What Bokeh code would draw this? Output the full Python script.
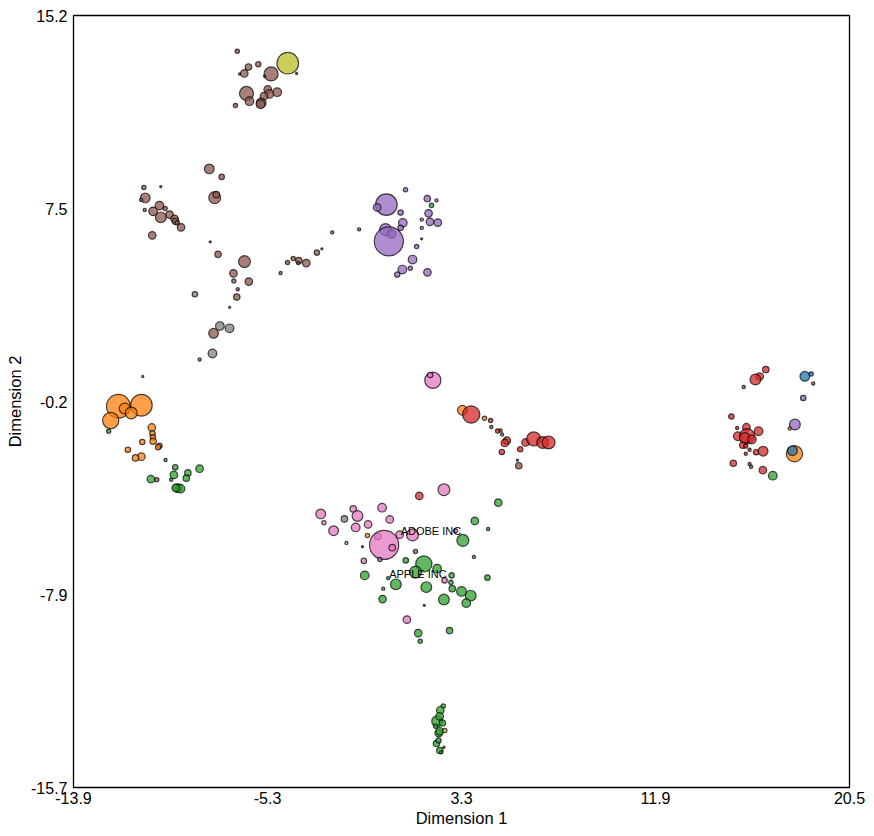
from bokeh.plotting import figure
from bokeh.models import ColumnDataSource, FixedTicker, Range1d
from bokeh.embed import file_html
from bokeh.resources import INLINE
from bokeh.core.properties import value

# group codes: 0 blue, 1 orange, 2 green, 3 red, 4 purple, 5 brown, 6 pink, 7 gray, 8 olive
x = [
    -6.64, -6.14, -5.71, -6.33, -6.54, -5.14, -5.43, -4.40, -4.01, -6.23, -6.10, -5.29, -5.22, -5.46, -4.87, -5.58, -5.61, -6.72,
    -7.88, -7.33, -10.78, -10.03, -10.72, -10.90, -7.64, -7.57, -10.74, -10.09, -10.37, -9.84, -10.03, -9.64, -9.42, -9.38, -9.30,
    -9.13, -10.41, -7.84, -2.43, -1.24, -7.49, -6.32, -3.11, -2.89, -4.41, -4.16, -3.91, -3.58, -3.94, -4.72, -6.81, -6.79, -6.13,
    -6.62, -6.66, -8.52, -6.98, -7.41, -6.98, -7.69, -7.74, -8.31, -10.83,
    0.82, 1.78, 2.19, 1.97, -0.03, -0.44, 0.60, 1.84, 1.54, 1.90, 2.25, 0.70, 0.60, -0.07, 0.20, 0.08, 1.54, 1.53, 1.31, 1.13,
    1.03, 0.68, 0.45, 1.79,
    -11.91, -10.89, -11.63, -11.34, -12.25, -12.34, -10.43, -10.40, -10.38, -10.37, -10.85, -10.09, -10.15, -11.49, -10.89, -11.15,
    -9.82, -9.39, -8.83, -8.31, -9.45, -8.90, -9.57, -10.47, -10.21, -9.28, -9.16, -9.37,
    2.03, 1.91, 3.34, 3.73, 4.32, 4.59, 4.62, 4.90, 5.03, 5.10, 5.31, 5.22, 5.09, 5.90, 6.14, 6.50, 6.90, 7.16, 5.84, 5.78,
    16.79, 16.52, 16.33, 15.81, 18.52, 18.80, 18.89, 18.45, 15.26, 18.08, 17.85, 15.93, 15.55, 15.96, 15.86, 16.47, 16.17, 15.77,
    15.90, 16.07, 15.90, 16.36, 16.67, 15.52, 18.06, 17.97, 15.35, 16.07, 16.14, 16.66, 17.10,
    2.52, 1.43, 4.93, -2.94, -2.80, -1.50, -1.31, -1.89, -0.22, 0.12, -2.37, -1.39, -0.84, 3.89, 4.48, -0.87, -0.41, -0.13, 0.23,
    0.56, 1.13, 3.03, 3.36, -1.80, -1.09, 1.26, -1.03, -0.32, 0.83, 1.63, 1.26, 2.22, 3.85, -0.99, 0.05, 0.39, 1.74, 2.86, 2.83,
    2.55, 2.89, 3.30, 3.71, 3.51, 4.45, -0.17, -0.20, 2.52, 1.65, 0.88, 1.38, 2.77, 1.47,
    2.49, 2.36, 2.22, 2.33, 2.45, 2.29, 2.33, 2.56, 2.19, 2.28, 2.34, 2.52, 2.40, 2.15,
]
y = [
    13.80, 13.17, 13.28, 12.91, 12.89, 12.89, 12.80, 13.32, 12.91, 12.11, 11.80, 12.27, 12.09, 12.00, 12.16, 11.73, 11.68, 11.63,
    9.09, 8.77, 8.35, 8.38, 7.93, 7.85, 7.94, 8.06, 7.45, 7.62, 7.39, 7.50, 7.15, 7.26, 7.09, 6.99, 6.93,
    6.75, 6.43, 6.17, 6.55, 6.67, 5.67, 5.38, 5.74, 5.89, 5.34, 5.50, 5.42, 5.32, 5.32, 4.92, 4.91, 4.60, 4.58,
    4.27, 3.96, 4.07, 3.55, 2.80, 2.71, 2.51, 1.70, 1.46, 0.78,
    8.26, 7.90, 7.83, 7.63, 7.66, 7.55, 7.34, 7.31, 7.06, 6.97, 6.94, 6.93, 6.73, 6.66, 6.49, 6.19, 6.73, 6.29, 5.98, 5.46,
    5.11, 5.06, 4.86, 4.95,
    -0.41, -0.37, -0.50, -0.68, -0.98, -1.41, -1.26, -1.49, -1.65, -1.81, -1.84, -1.99, -2.05, -2.15, -2.43, -2.48,
    -2.56, -2.85, -3.08, -2.91, -3.16, -3.29, -3.35, -3.33, -3.35, -3.69, -3.71, -3.68,
    0.63, 0.84, -0.57, -0.74, -0.89, -0.98, -1.24, -1.40, -1.38, -1.54, -1.79, -1.88, -2.24, -2.13, -1.86, -1.72, -1.86, -1.86, -2.79, -2.57,
    1.06, 0.78, 0.66, 0.36, 0.79, 0.88, 0.50, -0.08, -0.82, -1.14, -1.30, -1.25, -1.61, -1.61, -1.68, -1.41, -1.74, -1.97,
    -2.00, -2.15, -2.31, -2.25, -2.21, -1.28, -2.31, -2.19, -2.69, -2.72, -2.83, -2.97, -3.19,
    -3.75, -4.00, -4.27, -4.72, -5.07, -4.52, -4.80, -4.92, -4.47, -4.94, -5.39, -5.26, -5.14, -5.00, -5.32, -5.58, -5.62, -5.96, -6.07,
    -5.55, -5.56, -5.39, -5.78, -5.88, -6.03, -6.22, -6.60, -6.54, -6.58, -6.72, -7.05, -6.91, -6.44, -7.18, -7.29, -7.54, -7.65, -7.18, -7.46,
    -7.38, -7.71, -7.82, -7.99, -8.29, -7.27, -7.71, -8.13, -8.15, -8.38, -8.95, -9.49, -9.39, -9.82,
    -12.41, -12.58, -13.02, -12.82, -13.09, -13.49, -13.42, -13.39, -13.91, -13.79, -14.19, -14.06, -14.26, -13.22,
]
group = [
    5, 5, 5, 5, 5, 5, 5, 8, 5, 5, 5, 5, 5, 5, 5, 5, 5, 5,
    5, 5, 5, 5, 5, 5, 5, 5, 5, 5, 5, 5, 5, 5, 5, 5, 5,
    5, 5, 5, 5, 5, 5, 5, 5, 5, 5, 5, 5, 5, 5, 5, 5, 5, 5,
    5, 5, 7, 5, 7, 7, 5, 7, 5, 7,
    4, 4, 4, 2, 4, 4, 4, 4, 4, 4, 4, 4, 4, 4, 4, 4, 4, 4, 4, 4,
    4, 4, 4, 4,
    1, 1, 1, 1, 1, 2, 1, 1, 1, 1, 1, 5, 1, 1, 1, 1,
    2, 2, 2, 2, 2, 2, 2, 2, 5, 2, 2, 2,
    6, 6, 1, 3, 1, 3, 5, 3, 3, 7, 3, 3, 3, 3, 3, 3, 3, 3, 5, 5,
    3, 3, 3, 5, 0, 0, 5, 4, 3, 4, 1, 3, 3, 3, 3, 3, 3, 3,
    3, 3, 3, 3, 3, 3, 1, 0, 3, 5, 5, 3, 2,
    6, 3, 2, 6, 6, 6, 6, 7, 6, 6, 6, 6, 6, 2, 2, 1, 6, 6, 6,
    6, 6, 6, 2, 6, 5, 5, 6, 4, 2, 2, 2, 2, 2, 2, 2, 2, 2, 2, 2,
    6, 2, 2, 2, 2, 2, 2, 2, 2, 5, 6, 2, 2, 2,
    2, 2, 2, 2, 2, 2, 2, 8, 2, 2, 2, 2, 2, 2,
]
bubble = [
    4, 6, 5, 7, 2, 13, 2, 20, 2, 13, 8, 7, 8, 7, 8, 9, 8, 4,
    9, 5, 4, 2, 9, 3, 11, 6, 3, 8, 8, 4, 10, 7, 7, 6, 4,
    7, 7, 2, 3, 3, 6, 11, 5, 2, 4, 4, 6, 7, 3, 3, 7, 4, 7,
    3, 6, 5, 2, 8, 8, 9, 8, 3, 2,
    4, 6, 3, 4, 20, 7, 5, 7, 3, 7, 7, 8, 5, 11, 8, 27, 3, 2, 4, 8,
    4, 8, 5, 7,
    22, 20, 10, 11, 15, 4, 7, 5, 5, 6, 5, 5, 5, 5, 7, 6,
    3, 5, 6, 7, 7, 6, 3, 7, 4, 8, 8, 7,
    15, 5, 9, 16, 4, 4, 3, 4, 3, 3, 7, 7, 5, 5, 7, 13, 11, 12, 6, 2,
    6, 7, 10, 3, 9, 4, 3, 5, 5, 10, 3, 7, 8, 14, 10, 8, 8, 6,
    4, 3, 3, 5, 9, 3, 15, 9, 6, 3, 3, 7, 8,
    11, 7, 7, 9, 4, 6, 10, 6, 8, 7, 9, 8, 7, 7, 3, 4, 6, 27, 6,
    7, 11, 4, 11, 3, 2, 4, 5, 4, 5, 15, 11, 8, 3, 8, 3, 10, 10, 5, 4,
    5, 6, 9, 10, 8, 5, 3, 7, 10, 2, 7, 7, 6, 4,
    4, 7, 10, 7, 6, 7, 7, 4, 6, 5, 6, 2, 3, 4,
]

labels = ["ADOBE INC", "APPLE INC"]
label_x = [0.56, 0.05]
label_y = [-5.55, -7.29]

x_ticks = [-13.9, -5.3, 3.3, 11.9, 20.5]
x_tick_labels = ["-13.9", "-5.3", "3.3", "11.9", "20.5"]
y_ticks = [15.23, 7.505, -0.22, -7.945, -15.67]
y_tick_labels = ["15.2", "7.5", "-0.2", "-7.9", "-15.7"]

palette = ["#1f77b4", "#ff7f0e", "#2ca02c", "#d62728", "#9467bd",
           "#8c564b", "#e377c2", "#7f7f7f", "#bcbd22", "#17becf"]

SIZE_SCALE = 1.08

n = min(len(x), len(y), len(group), len(bubble))
src = ColumnDataSource(dict(
    x=x[:n], y=y[:n],
    color=[palette[g] for g in group[:n]],
    size=[b * SIZE_SCALE for b in bubble[:n]],
))

p = figure(width=874, height=836, output_backend="svg", toolbar_location=None,
           x_range=Range1d(x_ticks[0], x_ticks[-1]),
           y_range=Range1d(y_ticks[-1], y_ticks[0]),
           min_border_left=73, min_border_right=25, min_border_top=15, min_border_bottom=49,
           background_fill_color="white", border_fill_color="white")

p.grid.visible = False
p.outline_line_color = "black"
p.outline_line_width = 1.3
p.outline_line_alpha = 1.0

p.scatter("x", "y", size="size", source=src, fill_color="color", fill_alpha=0.75,
          line_color="black", line_alpha=0.7, line_width=1.2)

lsrc = ColumnDataSource(dict(x=label_x, y=label_y, text=labels))
p.text("x", "y", text="text", source=lsrc, text_font=value("Liberation Sans"),
       text_font_size="11px", text_color="black", text_align="left",
       text_baseline="alphabetic", x_offset=1, y_offset=-4)

p.xaxis.ticker = FixedTicker(ticks=x_ticks)
p.yaxis.ticker = FixedTicker(ticks=y_ticks)
p.xaxis.major_label_overrides = {t: s for t, s in zip(x_ticks, x_tick_labels)}
p.yaxis.major_label_overrides = {t: s for t, s in zip(y_ticks, y_tick_labels)}

for ax in (p.xaxis[0], p.yaxis[0]):
    ax.major_tick_line_color = None
    ax.minor_tick_line_color = None
    ax.major_tick_in = 0
    ax.major_tick_out = 0
    ax.axis_line_color = None
    ax.major_label_text_font = "Liberation Sans"
    ax.major_label_text_font_size = "16px"
    ax.major_label_text_color = "black"
    ax.axis_label_text_font = "Liberation Sans"
    ax.axis_label_text_font_size = "16.5px"
    ax.axis_label_text_font_style = "normal"
    ax.axis_label_text_color = "black"

p.xaxis.axis_label = "Dimension 1"
p.yaxis.axis_label = "Dimension 2"
p.xaxis.major_label_standoff = 4
p.xaxis.axis_label_standoff = 2
p.yaxis.major_label_standoff = 6
p.yaxis.axis_label_standoff = 4

open("out.html", "w").write(file_html(p, INLINE))
